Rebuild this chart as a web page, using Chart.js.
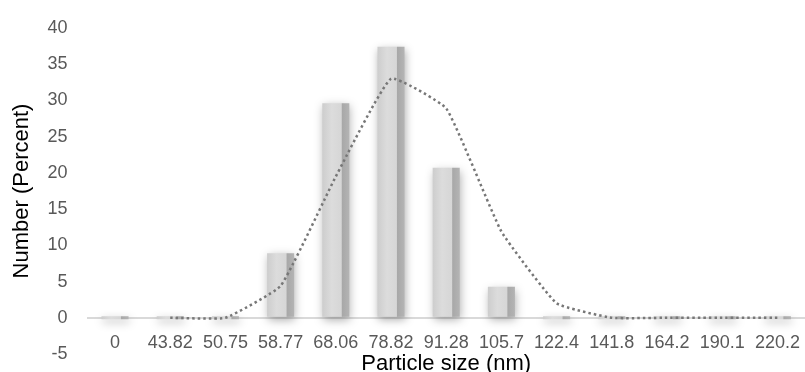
<!DOCTYPE html>
<html>
<head>
<meta charset="utf-8">
<script src="https://cdn.jsdelivr.net/npm/chart.js@4"></script>
<style>
    body { margin: 0; background: #fff; }
    #wrap { width: 805px; height: 372px; }
</style>
</head>
<body>
<div id="wrap"><canvas id="sizeChart" width="805" height="372"></canvas></div>
<script>
// =============================
// Data
// =============================

const sizeLabels = ['0', '43.82', '50.75', '58.77', '68.06', '78.82', '91.28', '105.7', '122.4', '141.8', '164.2', '190.1', '220.2'];
const barValues = [0, 0, 0, 8.9, 29.6, 37.4, 20.7, 4.3, 0, 0, 0, 0, 0];
const lineValues = [null, 0, 0, 4.4, 19.5, 33.0, 28.9, 11.9, 2.0, 0, 0, 0, 0];
const yTicks = [-5, 0, 5, 10, 15, 20, 25, 30, 35, 40];

const tickColor = '#595959';
const fontFamily = '"Liberation Sans", Arial, sans-serif';
const barPct = 0.49;
const clear = 'rgba(0,0,0,0)';

// bar fill: light body with a darker strip on the right side
function barFill(context) {
    const chart = context.chart;
    const xs = chart.scales.x;
    if (!xs || context.type !== 'data') return '#d6d6d6';
    const step = xs.getPixelForValue(1) - xs.getPixelForValue(0);
    const cx = xs.getPixelForValue(context.dataIndex);
    if (!isFinite(step) || !isFinite(cx) || step <= 0) return '#d6d6d6';
    const half = step * barPct / 2;
    const g = chart.ctx.createLinearGradient(cx - half, 0, cx + half, 0);
    g.addColorStop(0, '#cdcdcd');
    g.addColorStop(0.35, '#dcdcdc');
    g.addColorStop(0.7, '#d6d6d6');
    g.addColorStop(0.74, '#a8a8a8');
    g.addColorStop(1, '#b4b4b4');
    return g;
}

// soft shadow round the bars
const barShadow = {
    id: 'barShadow',
    beforeDatasetDraw(chart, args) {
        if (args.meta.type !== 'bar') return;
        const ctx = chart.ctx;
        ctx.save();
        ctx.shadowColor = 'rgba(0, 0, 0, 0.32)';
        ctx.shadowBlur = 9;
        ctx.shadowOffsetX = 1;
        ctx.shadowOffsetY = 3;
    },
    afterDatasetDraw(chart, args) {
        if (args.meta.type !== 'bar') return;
        chart.ctx.restore();
    }
};

new Chart(document.getElementById('sizeChart'), {
    type: 'bar',
    data: {
        labels: sizeLabels,
        datasets: [{
            type: 'line',
            data: lineValues,
            borderColor: '#777777',
            borderWidth: 2.5,
            borderDash: [2.5, 3],
            pointRadius: 0,
            tension: 0.12,
            fill: false,
            order: 0
        }, {
            type: 'bar',
            data: barValues,
            backgroundColor: barFill,
            borderWidth: 0,
            categoryPercentage: 1,
            barPercentage: barPct,
            minBarLength: 3,
            order: 1
        }]
    },
    options: {
        responsive: false,
        animation: false,
        layout: {
            padding: { left: 5, right: 0, top: 28, bottom: 18 }
        },
        plugins: {
            legend: { display: false },
            tooltip: { enabled: false }
        },
        scales: {
            x: {
                position: { y: 0 },
                // invisible tick marks make the gap under the zero line
                grid: { color: clear, tickColor: clear, drawTicks: true, tickLength: 14 },
                border: { display: false },
                ticks: {
                    color: tickColor,
                    padding: 0,
                    maxRotation: 0,
                    autoSkip: false,
                    font: { family: fontFamily, size: 18 }
                },
                title: {
                    display: true,
                    text: 'Particle size (nm)',
                    color: '#000',
                    padding: { top: -3, bottom: 0 },
                    font: { family: fontFamily, size: 22 }
                }
            },
            y: {
                min: -5,
                max: 40,
                afterBuildTicks: (scale) => {
                    scale.ticks = yTicks.map(v => ({ value: v }));
                },
                grid: {
                    drawTicks: true,
                    tickLength: 20,
                    tickColor: clear,
                    lineWidth: 2,
                    color: (c) => (c.tick && c.tick.value === 0) ? '#d9d9d9' : clear
                },
                border: { display: false },
                ticks: {
                    color: tickColor,
                    padding: 0,
                    font: { family: fontFamily, size: 18 }
                },
                title: {
                    display: true,
                    text: 'Number (Percent)',
                    color: '#000',
                    padding: { top: 4, bottom: 12 },
                    font: { family: fontFamily, size: 22 }
                }
            }
        }
    },
    plugins: [barShadow]
});
</script>
</body>
</html>
